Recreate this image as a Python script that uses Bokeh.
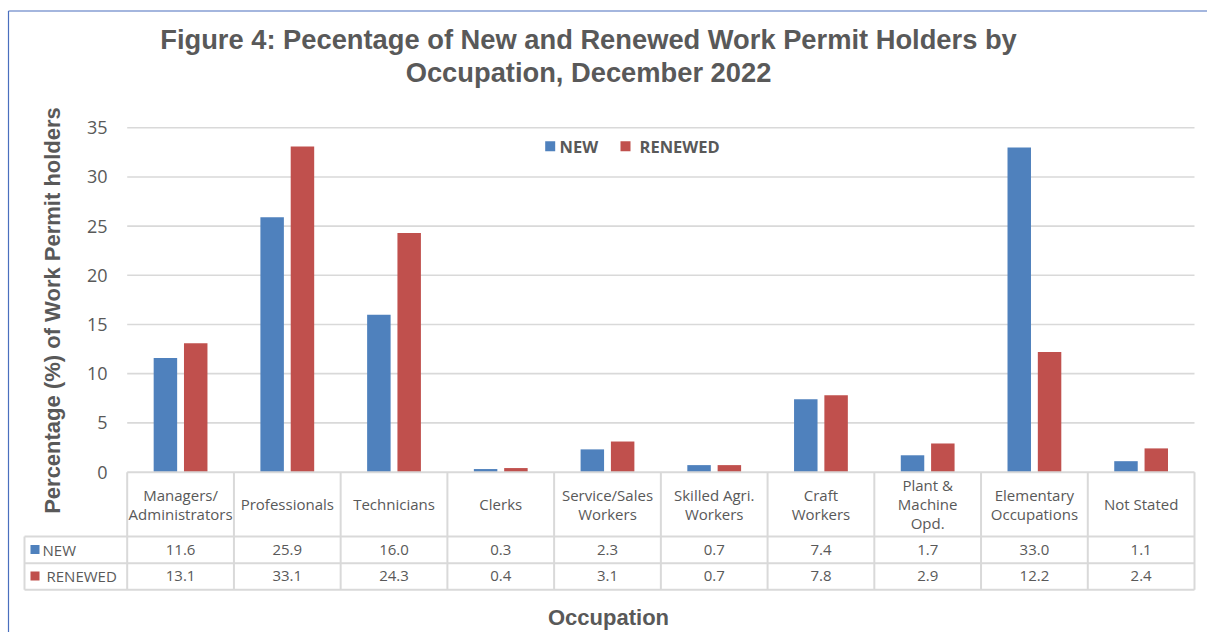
import math
from bokeh.plotting import figure
from bokeh.models import Range1d, ColumnDataSource
from bokeh.core.properties import value
from bokeh.embed import file_html
from bokeh.resources import INLINE

# ---------------- data ----------------
categories = ["Managers/\nAdministrators", "Professionals", "Technicians", "Clerks",
              "Service/Sales\nWorkers", "Skilled Agri.\nWorkers", "Craft\nWorkers",
              "Plant &\nMachine\nOpd.", "Elementary\nOccupations", "Not Stated"]
new_values = [11.6, 25.9, 16.0, 0.3, 2.3, 0.7, 7.4, 1.7, 33.0, 1.1]
renewed_values = [13.1, 33.1, 24.3, 0.4, 3.1, 0.7, 7.8, 2.9, 12.2, 2.4]
series_names = ["NEW", "RENEWED"]
y_ticks = [0, 5, 10, 15, 20, 25, 30, 35]
title_lines = ["Figure 4: Pecentage of New and Renewed Work Permit Holders by",
               "Occupation, December 2022"]
y_label = "Percentage (%) of Work Permit holders"
x_label = "Occupation"

# ---------------- layout ----------------
W, H = 1207, 632
OFF = 0                      # page offset of the canvas
PLOT_L, PLOT_R = 126.7, 1194.0
N = len(categories)
COLW = (PLOT_R - PLOT_L) / N
Y0 = 471.5                   # page y of value 0
PPU = 9.834                  # pixels per percent

def X(px):
    return (px - PLOT_L) / COLW - 0.5

def Y(py):
    return (Y0 - py) / PPU

BLUE = "#4F81BD"
RED = "#C0504D"
TXT = "#595959"
GRID = "#D9D9D9"
LIGHT = value("Open Sans")
BOLD = value("Liberation Sans")

p = figure(width=W, height=H, x_range=Range1d(X(OFF), X(OFF + W)),
           y_range=Range1d(Y(OFF + H), Y(OFF)), output_backend="svg",
           toolbar_location=None, min_border=0, x_axis_location=None,
           y_axis_location=None, title=None, outline_line_color=None,
           background_fill_color="white", border_fill_color="white")
p.grid.visible = False

# outer border (left & top)
p.segment(x0=[X(8), X(8)], y0=[Y(10.5), Y(10.5)],
          x1=[X(8), X(OFF + W)], y1=[Y(OFF + H), Y(10.5)],
          line_color="#4A6FBE", line_width=1.2)

# gridlines
grid_ticks = [t for t in y_ticks if t > 0]
p.segment(x0=[X(PLOT_L)] * len(grid_ticks), y0=grid_ticks,
          x1=[X(PLOT_R)] * len(grid_ticks), y1=grid_ticks,
          line_color=GRID, line_width=1.6)

# y tick labels
p.text(x=[X(107)] * len(y_ticks), y=y_ticks, text=[str(t) for t in y_ticks],
       text_font=LIGHT, text_font_size="18px", text_color=TXT,
       text_align="right", text_baseline="middle")

# bars
idx = list(range(N))
off = 0.142
bw = 0.22
p.vbar(x=[i - off for i in idx], top=new_values, bottom=0, width=bw,
       fill_color=BLUE, line_color=None)
p.vbar(x=[i + off for i in idx], top=renewed_values, bottom=0, width=bw,
       fill_color=RED, line_color=None)

# title
for k, line in enumerate(title_lines):
    p.text(x=[X(588)], y=[Y(39 + 33 * k)], text=[line], text_font=BOLD,
           text_font_style="bold", text_font_size="27.3px", text_color=TXT,
           text_align="center", text_baseline="middle")

# axis labels
p.text(x=[X(52)], y=[Y(310)], text=[y_label], angle=math.pi / 2,
       text_font=BOLD, text_font_style="bold", text_font_size="22px",
       text_color=TXT, text_align="center", text_baseline="middle")
p.text(x=[X(608)], y=[Y(617)], text=[x_label], text_font=BOLD,
       text_font_style="bold", text_font_size="22px", text_color=TXT,
       text_align="center", text_baseline="middle")

# top legend
p.scatter(x=[X(549.7), X(625)], y=[Y(145.7), Y(145.7)], marker="square",
          size=10, fill_color=[BLUE, RED], line_color=None)
p.text(x=[X(559), X(639)], y=[Y(145.5), Y(145.5)], text=series_names,
       text_font=value("Open Sans"), text_font_style="bold",
       text_font_size="16.5px", text_color=TXT, text_align="left",
       text_baseline="middle")

# ---------------- data table ----------------
T_TOP, T_H1, T_R1, T_BOT = 471.7, 536.0, 562.7, 589.3
T_LEFT = 24.0
hx0 = [X(PLOT_L), X(T_LEFT), X(T_LEFT), X(T_LEFT)]
hx1 = [X(PLOT_R)] * 4
hy = [Y(T_TOP), Y(T_H1), Y(T_R1), Y(T_BOT)]
p.segment(x0=hx0, y0=hy, x1=hx1, y1=hy, line_color=GRID, line_width=2)
vx = [i - 0.5 for i in range(N + 1)] + [X(T_LEFT)]
vy0 = [Y(T_TOP)] * (N + 1) + [Y(T_H1)]
p.segment(x0=vx, y0=vy0, x1=vx, y1=[Y(T_BOT)] * (N + 2),
          line_color=GRID, line_width=2)

# header (category) labels
hxs, hys, htx = [], [], []
LH = 19.0
for i, name in enumerate(categories):
    parts = name.split("\n")
    n = len(parts)
    for j, part in enumerate(parts):
        hxs.append(i)
        hys.append(Y(503.5 + (j - (n - 1) / 2) * LH))
        htx.append(part)
p.text(x=hxs, y=hys, text=htx, text_font=LIGHT, text_font_size="15px",
       text_color=TXT, text_align="center", text_baseline="middle")

# values
row_y = [Y(549.0), Y(575.5)]
vsrc = ColumnDataSource(dict(
    x=idx + idx,
    y=[row_y[0]] * N + [row_y[1]] * N,
    t=[f"{v:.1f}" for v in new_values] + [f"{v:.1f}" for v in renewed_values]))
p.text(x="x", y="y", text="t", source=vsrc, text_font=LIGHT,
       text_font_size="15px", text_color=TXT, text_align="center",
       text_baseline="middle")

# row legend keys
p.scatter(x=[X(34.5), X(34.5)], y=row_y, marker="square", size=9,
          fill_color=[BLUE, RED], line_color=None)
p.text(x=[X(42), X(46)], y=row_y, text=series_names, text_font=LIGHT,
       text_font_size="15px", text_color=TXT, text_align="left",
       text_baseline="middle")

open("out.html", "w").write(file_html(p, INLINE))
